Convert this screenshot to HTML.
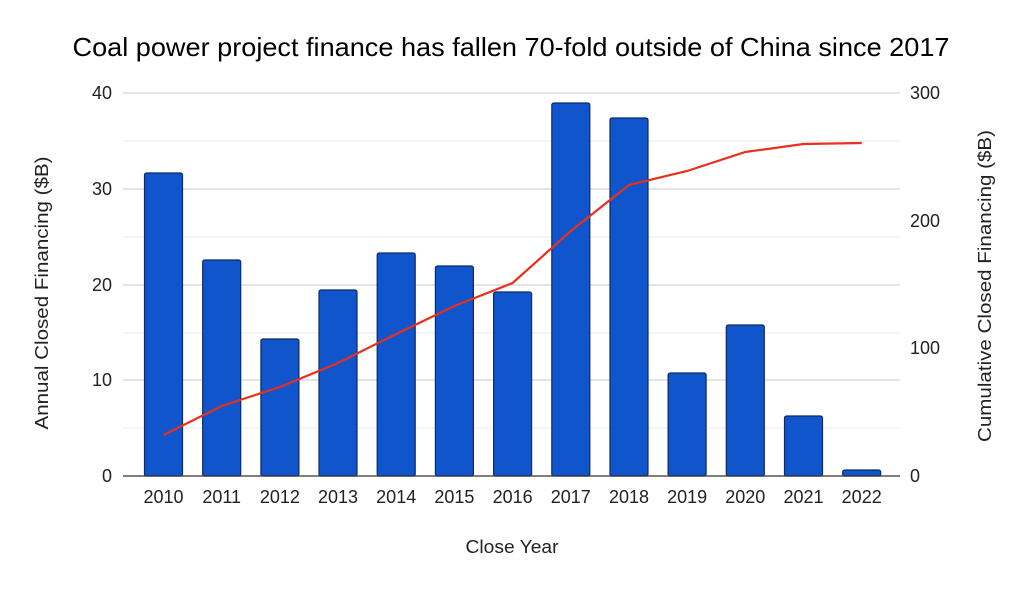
<!DOCTYPE html>
<html><head><style>body{margin:0;background:#fff}</style></head><body>
<svg width="1024" height="588" xmlns="http://www.w3.org/2000/svg" font-family="Liberation Sans, sans-serif">
<rect width="1024" height="588" fill="#fff"/>
<text x="511" y="56" font-size="26" text-anchor="middle" fill="#000" textLength="877" lengthAdjust="spacingAndGlyphs">Coal power project finance has fallen 70-fold outside of China since 2017</text>
<g stroke="#ebebeb" stroke-width="1">
<line x1="123" x2="900" y1="141" y2="141"/><line x1="123" x2="900" y1="237" y2="237"/><line x1="123" x2="900" y1="333" y2="333"/><line x1="123" x2="900" y1="428" y2="428"/>
</g>
<g stroke="#c8c8c8" stroke-width="1">
<line x1="123" x2="900" y1="93" y2="93"/><line x1="123" x2="900" y1="189" y2="189"/><line x1="123" x2="900" y1="285" y2="285"/><line x1="123" x2="900" y1="380" y2="380"/>
</g>
<g fill="#1155cc" stroke="#0b2a66" stroke-width="1.2">
<rect x="144.5" y="173" width="38" height="303" rx="2"/>
<rect x="202.7" y="260" width="38" height="216" rx="2"/>
<rect x="260.9" y="339" width="38" height="137" rx="2"/>
<rect x="319" y="290" width="38" height="186" rx="2"/>
<rect x="377.2" y="253" width="38" height="223" rx="2"/>
<rect x="435.4" y="266" width="38" height="210" rx="2"/>
<rect x="493.6" y="292" width="38" height="184" rx="2"/>
<rect x="551.8" y="103" width="38" height="373" rx="2"/>
<rect x="610" y="118" width="38" height="358" rx="2"/>
<rect x="668.1" y="373" width="38" height="103" rx="2"/>
<rect x="726.3" y="325" width="38" height="151" rx="2"/>
<rect x="784.5" y="416" width="38" height="60" rx="2"/>
<rect x="842.7" y="470" width="38" height="6" rx="2"/>
</g>
<line x1="123" x2="900" y1="476" y2="476" stroke="#333" stroke-width="1.3"/>
<polyline fill="none" stroke="#e8301c" stroke-width="2.2" points="163.5,435 221.7,406 279.9,387 338,363 396.2,334 454.4,306 512.6,283 570.8,231 629,185 687.1,171 745.3,152 803.5,144 861.7,143"/>
<g font-size="18" fill="#222" text-anchor="end">
<text x="112" y="99">40</text><text x="112" y="195">30</text><text x="112" y="291">20</text><text x="112" y="386">10</text><text x="112" y="482">0</text>
</g>
<g font-size="18" fill="#222" text-anchor="start">
<text x="910" y="99">300</text><text x="910" y="227">200</text><text x="910" y="354">100</text><text x="910" y="482">0</text>
</g>
<g font-size="18" fill="#222" text-anchor="middle">
<text x="163.5" y="503">2010</text><text x="221.7" y="503">2011</text><text x="279.9" y="503">2012</text><text x="338" y="503">2013</text><text x="396.2" y="503">2014</text><text x="454.4" y="503">2015</text><text x="512.6" y="503">2016</text><text x="570.8" y="503">2017</text><text x="629" y="503">2018</text><text x="687.1" y="503">2019</text><text x="745.3" y="503">2020</text><text x="803.5" y="503">2021</text><text x="861.7" y="503">2022</text>
<text x="512" y="553" textLength="93" lengthAdjust="spacingAndGlyphs">Close Year</text>
<text transform="translate(48,293) rotate(-90)" textLength="273" lengthAdjust="spacingAndGlyphs">Annual Closed Financing ($B)</text>
<text transform="translate(991,286) rotate(-90)" textLength="312" lengthAdjust="spacingAndGlyphs">Cumulative Closed Financing ($B)</text>
</g>
</svg>
</body></html>
